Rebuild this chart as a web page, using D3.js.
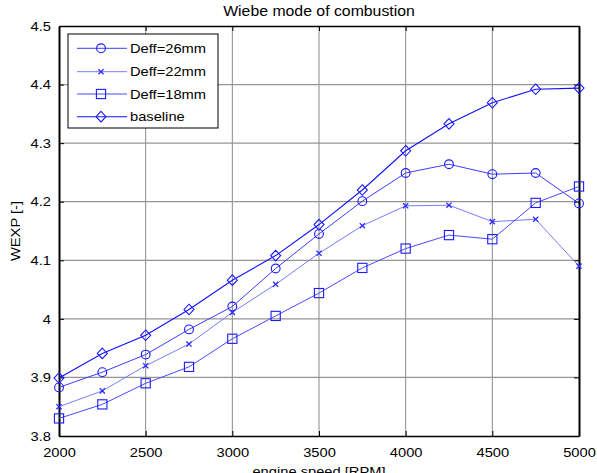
<!DOCTYPE html>
<html>
<head>
<meta charset="utf-8">
<script src="https://cdn.jsdelivr.net/npm/d3@7"></script>
<style>
  html, body { margin: 0; padding: 0; background: #fff; }
  svg { display: block; font-family: "Liberation Sans", Arial, sans-serif; }
</style>
</head>
<body>
<svg id="chart" width="597" height="473"></svg>
<script>
// Engine speed sweep (RPM)
const speeds = [2000, 2250, 2500, 2750, 3000, 3250, 3500, 3750, 4000, 4250, 4500, 4750, 5000];

// Wiebe exponent per configuration
const deff26   = [3.883, 3.909, 3.939, 3.982, 4.021, 4.086, 4.145, 4.201, 4.249, 4.264, 4.247, 4.249, 4.197];
const deff22   = [3.850, 3.877, 3.920, 3.957, 4.011, 4.059, 4.112, 4.159, 4.193, 4.194, 4.166, 4.170, 4.090];
const deff18   = [3.830, 3.854, 3.890, 3.918, 3.966, 4.005, 4.044, 4.087, 4.120, 4.143, 4.136, 4.198, 4.226];
const baseline = [3.899, 3.941, 3.972, 4.016, 4.066, 4.108, 4.161, 4.220, 4.287, 4.333, 4.369, 4.392, 4.394];

const seriesNames = ["Deff=26mm", "Deff=22mm", "Deff=18mm", "baseline"];
const xTicks = [2000, 2500, 3000, 3500, 4000, 4500, 5000];
const yTicks = [3.8, 3.9, 4.0, 4.1, 4.2, 4.3, 4.4, 4.5];

const titleText = "Wiebe mode of combustion";
const xLabelText = "engine speed [RPM]";
const yLabelText = "WEXP [-]";

const series = [
  { name: seriesNames[0], values: deff26,   marker: "circle",  color: "#3c3cff", width: 1.0 },
  { name: seriesNames[1], values: deff22,   marker: "x",       color: "#7a7aff", width: 1.0 },
  { name: seriesNames[2], values: deff18,   marker: "square",  color: "#4a4aff", width: 1.0 },
  { name: seriesNames[3], values: baseline, marker: "diamond", color: "#1010ff", width: 1.1 }
];

const svg = d3.select("#chart");
const pLeft = 59, pRight = 579, pTop = 26, pBottom = 436;

const x = d3.scaleLinear().domain([2000, 5000]).range([pLeft, pRight]);
const y = d3.scaleLinear().domain([3.8, 4.5]).range([pBottom, pTop]);

// widen glyphs horizontally
const STRETCH = 1.13;
function stretch(sel) {
  sel.each(function () {
    const len = this.getComputedTextLength();
    d3.select(this).attr("textLength", len * STRETCH).attr("lengthAdjust", "spacingAndGlyphs");
  });
}

// grid
const grid = svg.append("g");
grid.selectAll(".gx").data(xTicks.slice(1, -1)).join("line")
  .attr("x1", d => x(d)).attr("x2", d => x(d))
  .attr("y1", pTop).attr("y2", pBottom)
  .attr("stroke", "#8a8a8a").attr("stroke-width", 1);
grid.selectAll(".gy").data(yTicks.slice(1, -1)).join("line")
  .attr("x1", pLeft).attr("x2", pRight)
  .attr("y1", d => y(d)).attr("y2", d => y(d))
  .attr("stroke", "#959595").attr("stroke-width", 1.2);

// axes with inward ticks on all four sides
const axB = svg.append("g").attr("transform", `translate(0,${pBottom})`)
  .call(d3.axisBottom(x).tickValues(xTicks).tickSizeInner(-5).tickSizeOuter(0).tickPadding(12).tickFormat(d3.format("d")));
const axT = svg.append("g").attr("transform", `translate(0,${pTop})`)
  .call(d3.axisTop(x).tickValues(xTicks).tickSizeInner(-5).tickSizeOuter(0).tickFormat(""));
const axL = svg.append("g").attr("transform", `translate(${pLeft},0)`)
  .call(d3.axisLeft(y).tickValues(yTicks).tickSizeInner(-5).tickSizeOuter(0).tickPadding(8)
    .tickFormat(d => (Math.abs(d - 4) < 1e-9 ? "4" : d3.format(".1f")(d))));
const axR = svg.append("g").attr("transform", `translate(${pRight},0)`)
  .call(d3.axisRight(y).tickValues(yTicks).tickSizeInner(-5).tickSizeOuter(0).tickFormat(""));

[axB, axT, axL, axR].forEach(a => {
  a.select(".domain").attr("stroke", "#000").attr("stroke-width", 1.6);
  a.selectAll(".tick line").attr("stroke", "#000").attr("stroke-width", 1);
});
axL.select(".domain").attr("stroke-width", 2);
axR.select(".domain").attr("stroke-width", 2);

axB.selectAll(".tick text").attr("font-size", 13).attr("fill", "#000")
  .attr("font-family", "Liberation Sans, Arial, sans-serif").call(stretch);
axL.selectAll(".tick text").attr("font-size", 13).attr("fill", "#000")
  .attr("font-family", "Liberation Sans, Arial, sans-serif").call(stretch);

// marker drawing
function drawMarker(g, type, cx, cy, color) {
  if (type === "circle") {
    g.append("circle").attr("cx", cx).attr("cy", cy).attr("r", 4.4)
      .attr("fill", "none").attr("stroke", color).attr("stroke-width", 1.1);
  } else if (type === "square") {
    g.append("rect").attr("x", cx - 4.6).attr("y", cy - 4.6).attr("width", 9.2).attr("height", 9.2)
      .attr("fill", "none").attr("stroke", color).attr("stroke-width", 1.1);
  } else if (type === "diamond") {
    g.append("path").attr("d", `M${cx},${cy - 5.3}L${cx + 5},${cy}L${cx},${cy + 5.3}L${cx - 5},${cy}Z`)
      .attr("fill", "none").attr("stroke", color).attr("stroke-width", 1.1);
  } else if (type === "x") {
    const s = 2.6;
    g.append("path").attr("d", `M${cx - s},${cy - s}L${cx + s},${cy + s}M${cx - s},${cy + s}L${cx + s},${cy - s}`)
      .attr("fill", "none").attr("stroke", color).attr("stroke-width", 1.3);
  }
}

const line = d3.line().x(d => x(d[0])).y(d => y(d[1]));
const plot = svg.append("g");
series.forEach(s => {
  const pts = speeds.map((v, i) => [v, s.values[i]]);
  plot.append("path").attr("d", line(pts)).attr("fill", "none")
    .attr("stroke", s.color).attr("stroke-width", s.width);
  const mg = plot.append("g");
  pts.forEach(p => drawMarker(mg, s.marker, x(p[0]), y(p[1]), s.marker === "x" ? "#2a2aff" : "#1a1aff"));
});

// legend
const lg = svg.append("g");
lg.append("rect").attr("x", 68).attr("y", 34).attr("width", 150).attr("height", 94)
  .attr("fill", "#fff").attr("stroke", "#000").attr("stroke-width", 1);
const rowY = [48.3, 71.7, 94, 116.7];
series.forEach((s, i) => {
  const yy = rowY[i];
  lg.append("line").attr("x1", 77).attr("x2", 127).attr("y1", yy).attr("y2", yy)
    .attr("stroke", s.color).attr("stroke-width", s.width);
  drawMarker(lg, s.marker, 101, yy, s.marker === "x" ? "#2a2aff" : "#1a1aff");
  lg.append("text").attr("x", 130).attr("y", yy + 4.7).attr("font-size", 13).attr("fill", "#000")
    .text(s.name).call(stretch);
});

// title and axis labels
svg.append("text").attr("x", (pLeft + pRight) / 2).attr("y", 16).attr("text-anchor", "middle")
  .attr("font-size", 14).attr("fill", "#000").text(titleText).call(stretch);
svg.append("text").attr("x", (pLeft + pRight) / 2).attr("y", 476).attr("text-anchor", "middle")
  .attr("font-size", 13).attr("fill", "#000").text(xLabelText).call(stretch);
svg.append("text").attr("transform", `translate(19.5,${(pTop + pBottom) / 2}) rotate(-90)`)
  .attr("text-anchor", "middle").attr("font-size", 13).attr("fill", "#000").text(yLabelText).call(stretch);
</script>
</body>
</html>
